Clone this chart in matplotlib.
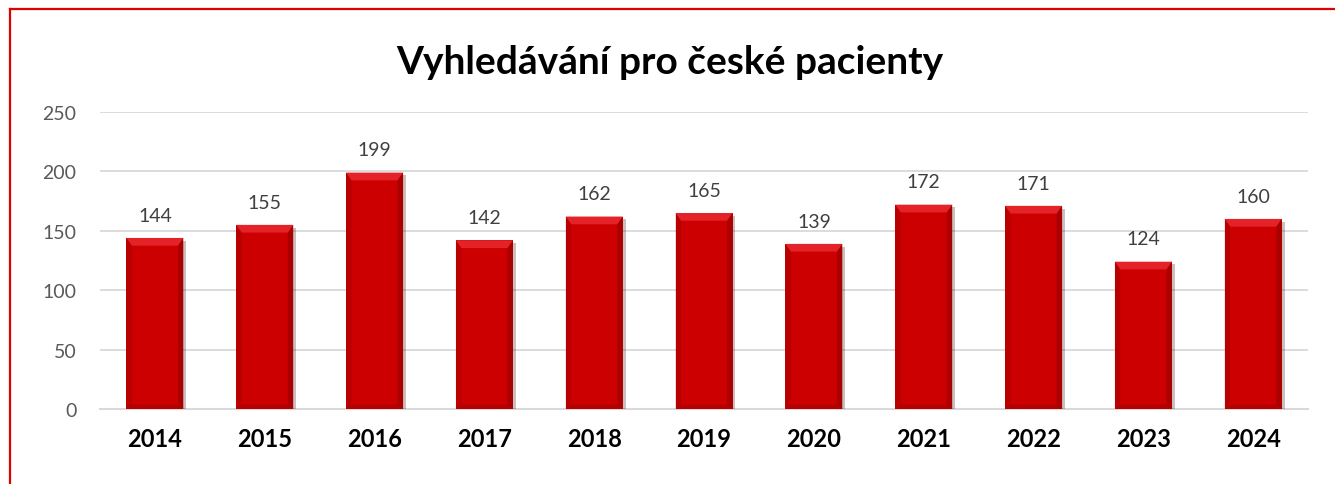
"""
Vyhledávání pro české pacienty - sloupcový graf
"""
import matplotlib
matplotlib.use('Agg')
import matplotlib.pyplot as plt
import matplotlib.patheffects as pe
from matplotlib.patches import Polygon
from matplotlib.lines import Line2D

plt.rcParams['font.family'] = ['Lato', 'DejaVu Sans']

years = ['2014', '2015', '2016', '2017', '2018', '2019', '2020', '2021', '2022', '2023', '2024']
counts = [144, 155, 199, 142, 162, 165, 139, 172, 171, 124, 160]

BAR_RED = '#CC0000'
TOP_RED = '#E42328'
SIDE_DARK = '#8E0000'

fig = plt.figure(figsize=(13.35, 4.85), dpi=100)
ax = fig.add_axes([0.0749, 0.1546, 0.905, 0.6124])

bars = ax.bar(range(len(years)), counts, width=0.52, color=BAR_RED, zorder=3,
              path_effects=[pe.SimplePatchShadow(offset=(2, -2), alpha=0.25),
                            pe.Normal()])

# jednoduchý "bevel" efekt na sloupcích
bx, by = 0.05, 6.5  # velikost zkosení v datových jednotkách
for b in bars:
    x0 = b.get_x()
    w = b.get_width()
    h = b.get_height()
    x1 = x0 + w
    top = Polygon([(x0, h), (x1, h), (x1 - bx, h - by), (x0 + bx, h - by)],
                  closed=True, facecolor=TOP_RED, edgecolor='none', zorder=4)
    right = Polygon([(x1, h), (x1, 0), (x1 - bx, by * 0.6), (x1 - bx, h - by)],
                    closed=True, facecolor=SIDE_DARK, edgecolor='none', alpha=0.55, zorder=4)
    left = Polygon([(x0, h), (x0, 0), (x0 + bx, by * 0.6), (x0 + bx, h - by)],
                   closed=True, facecolor=SIDE_DARK, edgecolor='none', alpha=0.3, zorder=4)
    bottom = Polygon([(x0, 0), (x1, 0), (x1 - bx, by * 0.6), (x0 + bx, by * 0.6)],
                     closed=True, facecolor=SIDE_DARK, edgecolor='none', alpha=0.35, zorder=4)
    for p in (top, right, left, bottom):
        ax.add_patch(p)
    ax.text(b.get_x() + w / 2, h + 12, str(int(h)), ha='center', va='bottom',
            fontsize=14, color='#404040', zorder=5)

ax.set_xlim(-0.5, len(years) - 0.5)
ax.set_ylim(0, 250)
ax.set_yticks([0, 50, 100, 150, 200, 250])
ax.set_xticks(range(len(years)))
ax.set_xticklabels(years, fontsize=17, fontweight='bold', color='black')
ax.tick_params(axis='y', labelsize=14, labelcolor='#595959', length=0, pad=17)
ax.tick_params(axis='x', length=0, pad=13)

ax.grid(axis='y', color='#D9D9D9', linewidth=1.3, zorder=0)
ax.set_axisbelow(True)
for s in ['top', 'right', 'left']:
    ax.spines[s].set_visible(False)
ax.spines['bottom'].set_color('#D9D9D9')
ax.spines['bottom'].set_linewidth(1.5)
ax.spines['bottom'].set_zorder(2)

fig.text(0.502, 0.872, 'Vyhledávání pro české pacienty', ha='center', va='center',
         fontsize=28, fontweight='bold', color='black')

# červený rámeček (vidět jen levá a horní strana)
fig.add_artist(Line2D([0.0075, 0.0075], [-0.1, 0.979], color='#E00000', linewidth=1.6))
fig.add_artist(Line2D([0.0075, 1.1], [0.979, 0.979], color='#E00000', linewidth=1.6))

plt.savefig('out.png', dpi=100)
